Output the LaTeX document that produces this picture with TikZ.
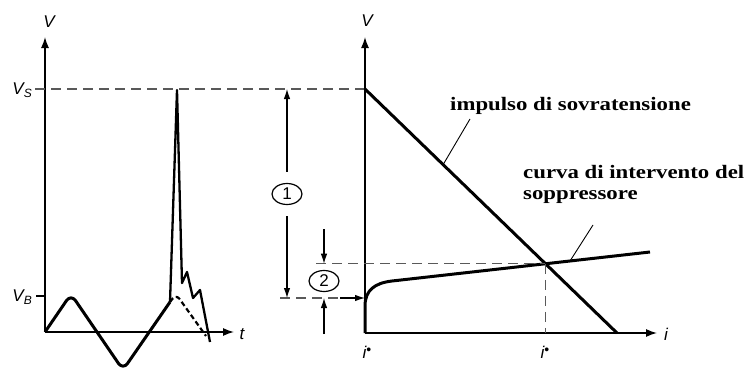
\documentclass[tikz,border=0pt]{standalone}
\usepackage{fontspec}
\setmainfont{Liberation Serif}
\newfontfamily\axfont{Liberation Sans}
\newfontfamily\lblfont[FakeStretch=1.2]{Liberation Serif}
\usetikzlibrary{arrows.meta,shapes.geometric,intersections}
\tikzset{
	axis/.style={line width=1.4pt, -{Latex[length=11pt,width=8pt]}},
	curve/.style={line width=3pt, line join=round},
	guide/.style={dash pattern=on 10pt off 6pt, line width=1.5pt, black!65},
	dim/.style={line width=1.1pt, -{Latex[length=10pt,width=6.5pt]}},
	lead/.style={line width=0.9pt},
	axlabel/.style={font=\axfont\itshape\fontsize{17}{17}\selectfont, inner sep=0pt},
	num/.style={ellipse, draw, line width=1.2pt, minimum width=30pt, minimum height=21pt, inner sep=0pt, font=\axfont\fontsize{17}{17}\selectfont},
	note/.style={font=\lblfont\bfseries\fontsize{19}{21}\selectfont, align=left, inner sep=0pt, anchor=base west}
}
\newcommand{\sub}[1]{\raisebox{-0.35ex}{\fontsize{12}{12}\selectfont #1}}
\newcommand{\idot}{i\raisebox{0.45ex}{\fontsize{14}{14}\selectfont\upshape •}}
\begin{document}
\begin{tikzpicture}[x=1pt,y=-1pt]
	\useasboundingbox (0,0) rectangle (747,367);
	% left plot: voltage against time
	\coordinate (O1) at (45,332);
	\coordinate (Vs) at (365,89);
	\draw[axis] (O1) -- (45,37);
	\draw[axis] (O1) -- (234,332);
	\node[axlabel] (v1) at (49,22) {V};
	\node[axlabel] (t1) at (242,334) {t};
	\node[axlabel, anchor=east] (vs) at (32,90) {V\sub{S}};
	\node[axlabel, anchor=east] (vb) at (32,297) {V\sub{B}};
	\coordinate (vbt) at (36,296);
	\draw[line width=1.3pt] (vbt) -- (vbt -| O1);
	\draw[guide] (35,89) -- (Vs);
	\draw[curve, rounded corners=8pt] (O1) -- (71,294) -- (123,370) -- (170,302);
	\draw[curve, line width=2.3pt] (170,302) -- (177,90) -- (182,283) -- (187,272) -- (193,298) -- (200,290) -- (210,342);
	\draw[curve, line width=2.2pt, dash pattern=on 5pt off 3pt, rounded corners=6pt] (170,302) -- (176,294) -- (206,336);
	% right plot: voltage against current
	\coordinate (O2) at (365,333);
	\draw[axis] (O2) -- (365,37);
	\draw[axis] (O2) -- (657,333);
	\node[axlabel] (v2) at (367,21) {V};
	\node[axlabel] (i2) at (666,334) {i};
	\draw[curve, name path=surge] (Vs) -- (617,333) coordinate[pos=0.31] (sp);
	\draw[curve, name path=supp] (O2) -- (365,306) .. controls (365,290) and (375,283) .. (392,281) -- (650,252) coordinate[pos=0.69] (cp);
	\path[name intersections={of=surge and supp, by=X}];
	\coordinate (B) at (365,298);
	\draw[guide] (X) -- (X |- O2);
	\draw[guide] (316,0 |- X) -- (X);
	\draw[guide] (280,298) -- (357,298);
	\draw[dim] (340,298) -- (B);
	\node[axlabel] (ia) at (367,352) {\idot};
	\node[axlabel] (ib) at (545,352) {\idot};
	% the two marked distances
	\node[num] (n1) at (287,194) {1};
	\draw[dim, shorten <=11pt] (n1.north) -- (n1 |- Vs);
	\draw[dim, shorten <=11pt] (n1.south) -- (n1 |- B);
	\node[num] (n2) at (324,281) {2};
	\draw[dim] (324,229) -- (n2 |- X);
	\draw[dim] (324,334) -- (n2 |- B);
	% labels
	\node[note] (imp) at (450,110) {impulso di sovratensione};
	\node[note] (cur) at (523,199) {curva di intervento del\\soppressore};
	\draw[lead] (470,119) -- (sp);
	\draw[lead] (593,225) -- (cp);
\end{tikzpicture}
\end{document}
